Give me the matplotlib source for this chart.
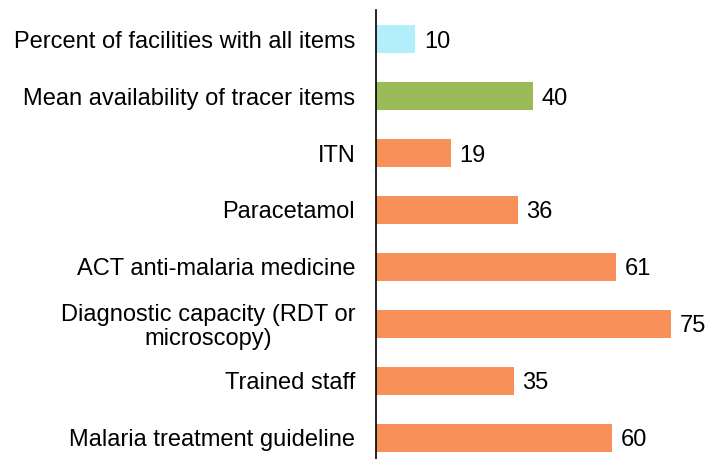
import matplotlib.pyplot as plt

plt.rcParams['font.family'] = ['Liberation Sans', 'DejaVu Sans']

labels = ["Percent of facilities with all items",
          "Mean availability of tracer items",
          "ITN",
          "Paracetamol",
          "ACT anti-malaria medicine",
          "Diagnostic capacity (RDT or\nmicroscopy)",
          "Trained staff",
          "Malaria treatment guideline"]
values = [10, 40, 19, 36, 61, 75, 35, 60]
colors = ["#B3EEFB", "#9BBB59"] + ["#F79059"] * 6

fig = plt.figure(figsize=(7.09, 4.59), dpi=100)
ax = fig.add_axes([376 / 709, 0, 333 / 709, 449 / 459])

pos = range(len(values))
bars = ax.barh(pos, values, height=0.5, color=colors)
for b, v in zip(bars, values):
    ax.text(v + 2.2, b.get_y() + b.get_height() / 2, str(v),
            va='center_baseline', ha='left', fontsize=17)

ax.set_yticks(list(pos))
ax.set_yticklabels(labels, fontsize=17, ha='right', multialignment='center',
                   linespacing=1.1)
ax.tick_params(axis='y', length=0, pad=15)
ax.set_xticks([])
ax.set_xlim(0, 84.7)
ax.set_ylim(7.37, -0.51)
for s in ['top', 'right', 'bottom']:
    ax.spines[s].set_visible(False)
ax.spines['left'].set_linewidth(1.2)

fig.savefig("out.png", dpi=100)
